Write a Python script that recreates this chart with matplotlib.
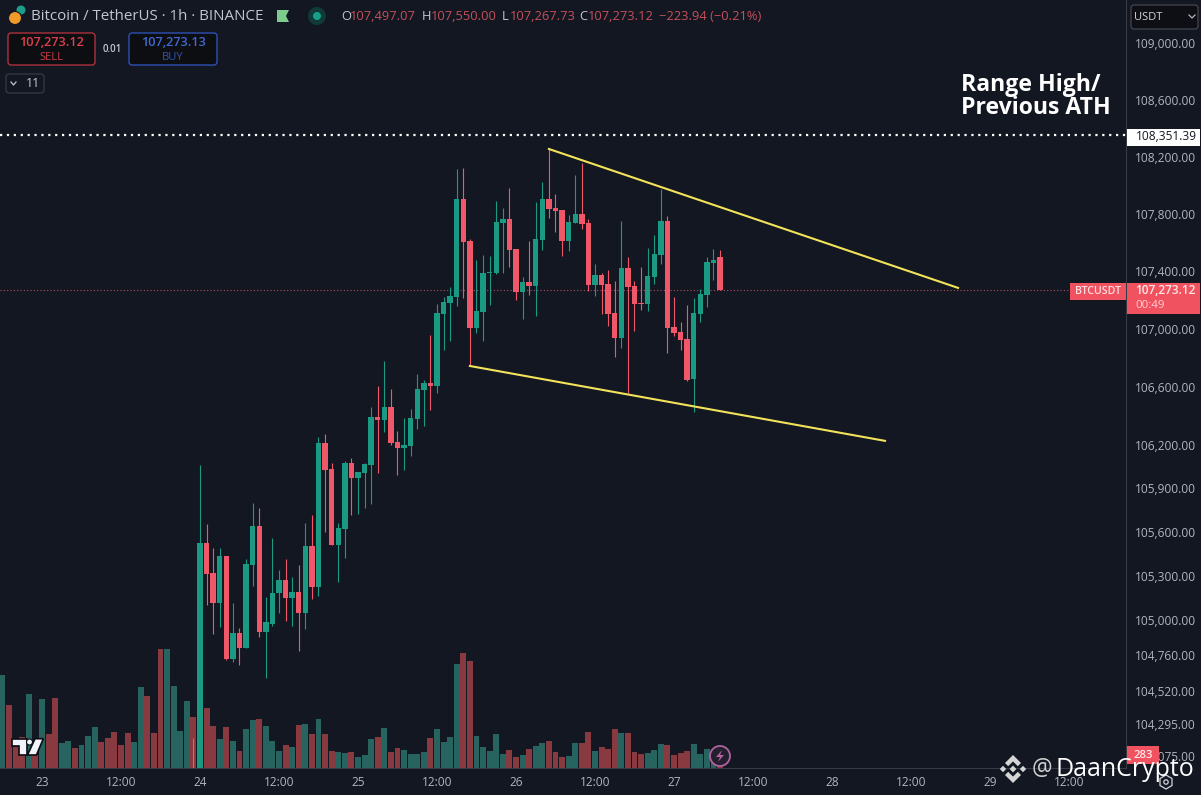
import matplotlib
matplotlib.use("Agg")
import matplotlib.pyplot as plt
from matplotlib.patches import Circle, FancyBboxPatch, Polygon, Rectangle

plt.rcParams['font.family'] = ['Open Sans', 'DejaVu Sans']

# hourly candles, first one sits just left of the "24" tick
first_bar = -1
opens = [103900, 103700, 105524, 105319, 105115, 105437, 104734, 104912, 104808, 105375, 105642,
         104919, 104975, 105185, 105271, 105150, 105192, 105046, 105503, 105226, 106211,
         106032, 105510, 105621, 106074, 105970, 106004, 106060, 106390, 106369, 106459,
         106218, 106176, 106190, 106375, 106577, 106625, 106604, 107105, 107181, 107222,
         107906, 107613, 107007, 107118, 107389, 107390, 107738, 107767, 107557, 107257,
         107327, 107299, 107620, 107906, 107843, 107829, 107613, 107738, 107801, 107738,
         107306, 107375, 107313, 107112, 106938, 107424, 107299, 107181, 107174, 107361,
         107515, 107753, 107014, 106980, 106931, 106654, 107105, 107236, 107458, 107497.07]
highs = [104200, 106060, 105658, 105491, 105491, 105437, 105115, 104944, 105412, 105799, 105767,
         105159, 105558, 105340, 105417, 105292, 105375, 105660, 105716, 106252, 106275,
         106074, 105662, 106088, 106108, 106011, 106074, 106459, 106605, 106778, 106584,
         106294, 106383, 106445, 106685, 106646, 106958, 107171, 107222, 107288, 108117,
         108124, 107625, 107480, 107515, 107508, 107892, 107843, 107983, 107557, 107361,
         107613, 107885, 108025, 108266, 107941, 107829, 107794, 108074, 108158, 107767,
         107452, 107390, 107410, 107334, 107753, 107501, 107334, 107431, 107563, 107655,
         107976, 107788, 107222, 107049, 107167, 107216, 107278, 107501, 107557, 107550]
lows = [103700, 103600, 105101, 104903, 104949, 104727, 104711, 104695, 104808, 105233, 104884,
        104607, 104961, 105048, 104995, 104961, 104790, 104938, 105143, 105164, 105600,
        105510, 105257, 105421, 105716, 105723, 105764, 105792, 106004, 106287, 106200,
        105990, 106025, 106121, 106306, 106327, 106438, 106556, 106854, 106917, 107160,
        107218, 106751, 106975, 106917, 107167, 107380, 107390, 107431, 107199, 107070,
        107236, 107091, 107550, 107773, 107676, 107508, 107543, 107738, 107696, 107264,
        107230, 107105, 107021, 106806, 106869, 106557, 106987, 107132, 107125, 107313,
        107449, 106834, 106952, 106855, 106640, 106426, 107049, 107153, 107340, 107267.73]
closes = [103850, 105524, 105315, 105115, 105437, 104734, 104912, 104808, 105382, 105642, 104919,
          104988, 105185, 105271, 105150, 105192, 105046, 105503, 105226, 106211, 106025,
          105510, 105628, 106074, 105970, 106011, 106067, 106390, 106369, 106459, 106211,
          106176, 106197, 106383, 106584, 106625, 106604, 107111, 107188, 107230, 107906,
          107606, 107007, 107125, 107389, 107396, 107746, 107767, 107550, 107257, 107327,
          107299, 107627, 107906, 107836, 107822, 107613, 107746, 107801, 107731, 107306,
          107375, 107306, 107105, 106938, 107424, 107292, 107174, 107174, 107368, 107522,
          107753, 107007, 106973, 106924, 106647, 107112, 107243, 107465, 107480, 107273.12]

# volume starts further left than the visible candles
first_vol_bar = -30
volumes = [9300, 6300, 2130, 3130, 7400, 1300, 6900, 3400, 7000, 2500, 2700, 2000, 2300, 3200, 4100,
           2600, 3000, 3600, 2300, 3500, 2600, 8100, 7200, 3500, 11900, 11900, 8200, 3700, 6700, 5100,
           8100, 6000, 4200, 2900, 4100, 2700, 1700, 3900, 4800, 4900, 4200, 2700, 1700, 2300, 2100,
           4300, 4400, 3400, 4900, 3400, 1700, 1600, 1500, 1600, 1100, 1300, 2900, 3100, 4000, 1600,
           2000, 1800, 1400, 1400, 1600, 3000, 3900, 2600, 3100, 10400, 11500, 10700, 3200, 2100, 1700,
           3400, 1400, 1800, 1100, 1300, 1900, 2200, 2500, 2700, 1600, 1100, 1200, 2500, 2500, 3600,
           1700, 2100, 1900, 3900, 3500, 3500, 1600, 1400, 1500, 1800, 2400, 2300, 1300, 1500, 1700,
           2400, 1400, 1900, 1500, 283]
vol_up = [1, 0, 0, 0, 1, 0, 1, 0, 0, 1, 1, 0, 1, 1, 1,
          0, 0, 0, 0, 0, 1, 1, 0, 0, 0, 1, 1, 1, 1, 0,
          1, 0, 0, 1, 0, 1, 0, 1, 1, 0, 1, 1, 1, 0, 1,
          0, 1, 0, 1, 0, 0, 1, 1, 0, 1, 1, 1, 0, 1, 0,
          0, 1, 1, 1, 1, 0, 1, 1, 1, 1, 0, 0, 1, 1, 1,
          1, 1, 0, 0, 1, 0, 1, 1, 0, 0, 0, 1, 1, 0, 0,
          1, 0, 0, 0, 1, 0, 0, 0, 1, 1, 1, 0, 0, 0, 0,
          1, 1, 1, 1, 0]

price_ticks = [109000, 108600, 108200, 107800, 107400, 107000, 106600, 106200, 105900,
               105600, 105300, 105000, 104760, 104520, 104295, 104075]
time_ticks = [-24, -12, 0, 12, 24, 36, 48, 60, 72, 84, 96, 108, 120, 132]
time_labels = ['23', '12:00', '24', '12:00', '25', '12:00', '26', '12:00', '27', '12:00',
               '28', '12:00', '29', '12:00']

range_high = 108351.39
last_price = 107273.12
upper_line_x = [53, 115.15]
upper_line_y = [108256, 107285]
lower_line_x = [41, 104.05]
lower_line_y = [106743, 106226]

BG = '#131722'
UP = '#1a9a82'
DOWN = '#f0586a'
VOL_UP = '#27645f'
VOL_DOWN = '#893a40'
GRID_TXT = '#b2b5be'
BORDER = '#363a45'
TAG = '#f0525f'

W, H = 1201, 795
fig = plt.figure(figsize=(W / 100, H / 100), dpi=100, facecolor=BG)
rect = [0, 27 / H, 1126 / W, 768 / H]

ax_vol = fig.add_axes(rect, facecolor=BG)
ax = fig.add_axes(rect, facecolor='none')
ax_ui = fig.add_axes([0, 0, 1, 1], facecolor='none')

xlim = (-30.38, 140.66)

# volume pane
vol_x = [first_vol_bar + i for i in range(len(volumes))]
vol_cols = [VOL_UP if u else VOL_DOWN for u in vol_up]
ax_vol.bar(vol_x, volumes, width=0.9, color=vol_cols, linewidth=0)
ax_vol.set_xlim(xlim)
ax_vol.set_ylim(0, 76800)
ax_vol.axis('off')

# candles
ax.set_yscale('log')
for i in range(len(opens)):
    x = first_bar + i
    col = UP if closes[i] >= opens[i] else DOWN
    ax.vlines(x, lows[i], highs[i], color=col, linewidth=0.8, zorder=3)
    top = max(opens[i], closes[i])
    bot = min(opens[i], closes[i])
    ax.bar(x, top - bot, bottom=bot, width=0.82, color=col, linewidth=0, zorder=4)

ax.set_xlim(xlim)
ax.set_ylim(103996, 109307)

# drawings
ax.axhline(range_high, color='white', linewidth=1.6, linestyle=(0, (1, 2.1)), zorder=5)
ax.axhline(last_price, color='#b0505c', linewidth=0.8, linestyle=(0, (1, 2)), zorder=2)
ax.plot(upper_line_x, upper_line_y, color='#f2e35a', linewidth=1.5, zorder=6)
ax.plot(lower_line_x, lower_line_y, color='#f2e35a', linewidth=1.5, zorder=6)

# axes labels
ax.yaxis.tick_right()
ax.set_yticks(price_ticks)
ax.set_yticklabels([f'{p:,.2f}' for p in price_ticks])
ax.yaxis.set_minor_locator(matplotlib.ticker.NullLocator())
ax.yaxis.set_minor_formatter(matplotlib.ticker.NullFormatter())
ax.set_xticks(time_ticks)
ax.set_xticklabels(time_labels)
ax.tick_params(axis='y', length=0, pad=6.3, labelsize=8.6, labelcolor=GRID_TXT)
ax.tick_params(axis='x', length=0, pad=5.6, labelsize=8.6, labelcolor=GRID_TXT)
for side in ['top', 'left']:
    ax.spines[side].set_visible(False)
ax.spines['right'].set_color(BORDER)
ax.spines['bottom'].set_color(BORDER)
ax.spines['right'].set_linewidth(0.8)
ax.spines['bottom'].set_linewidth(0.8)

# pixel overlay for the TradingView chrome
ax_ui.set_xlim(0, W)
ax_ui.set_ylim(H, 0)
ax_ui.axis('off')


def box(x0, y0, x1, y1, fc, ec, r=3, lw=0.9):
    ax_ui.add_patch(FancyBboxPatch((x0 + r, y0 + r), x1 - x0 - 2 * r, y1 - y0 - 2 * r,
                                   boxstyle=f'round,pad={r}', fc=fc, ec=ec, lw=lw))


def label(x, y, s, color='white', size=8.6, ha='left', weight='normal', **kw):
    ax_ui.text(x, y, s, color=color, fontsize=size, ha=ha, va='center', fontweight=weight, **kw)


# header
ax_ui.add_patch(Circle((21, 10), 4.5, fc='#1d9c88', ec='none'))
ax_ui.add_patch(Circle((15, 18), 6.5, fc='#f09a2a', ec=BG, lw=0.8))
label(31, 16, 'Bitcoin / TetherUS · 1h · BINANCE', color='#c3c6ce', size=10.9)
ax_ui.add_patch(Polygon([(277, 10), (289, 10), (286, 16), (289, 22), (277, 22)], fc='#7fcb8e', ec='none'))
ax_ui.add_patch(Circle((317, 16), 9, fc='#0f3a38', ec='none'))
ax_ui.add_patch(Circle((317, 16), 4, fc='#16a085', ec='none'))

ohlc_letters = [(341, 'O'), (422, 'H'), (502, 'L'), (579, 'C')]
ohlc_values = [(350, '107,497.07'), (431, '107,550.00'), (510, '107,267.73'), (588, '107,273.12')]
for x, s in ohlc_letters:
    label(x, 16, s, color='#c3c6ce', size=9.3)
for x, s in ohlc_values:
    label(x, 16, s, color='#c4505a', size=9.3)
label(659, 16, '−223.94 (−0.21%)', color='#c4505a', size=9.3)

# sell / buy
box(8, 33, 95, 65, '#0d0e12', '#c0343f')
label(51.5, 43, '107,273.12', color='#dc404c', size=9.2, ha='center', weight='semibold')
label(51.5, 57, 'SELL', color='#cc3c47', size=8, ha='center')
label(112, 50, '0.01', color='#c3c6ce', size=7, ha='center', weight='semibold')
box(129, 33, 217, 65, '#0d0e12', '#2f56c4')
label(173, 43, '107,273.13', color='#4268d0', size=9.2, ha='center', weight='semibold')
label(173, 57, 'BUY', color='#3253b0', size=8, ha='center')
box(6, 74, 44, 93, BG, BORDER)
ax_ui.plot([11, 13.5, 16], [82, 85, 82], color='#c3c6ce', lw=0.9)
label(26, 83.5, '11', color='#c3c6ce', size=8.8)

# currency box
box(1131, 5, 1198, 29, '#0d0f14', '#434651')
label(1134, 17, 'USDT', color='#d1d4dc', size=8)
ax_ui.plot([1189, 1192, 1195], [15, 18, 15], color='#b2b5be', lw=0.9)

# annotation
label(961, 85, 'Range High/', size=16.6, weight='bold')
label(961, 108.5, 'Previous ATH', size=16.6, weight='bold')

# price tags
ax_ui.add_patch(Rectangle((1127, 129), 73, 17, fc='white', ec='none'))
label(1136, 137, '108,351.39', color='#131722', size=8.6)
ax_ui.add_patch(Rectangle((1070, 283), 56, 17, fc=TAG, ec='none'))
label(1098, 291.5, 'BTCUSDT', color='#ffe0e3', size=7.6, ha='center', weight='semibold')
ax_ui.add_patch(Rectangle((1127, 283), 73, 31, fc=TAG, ec='none'))
label(1135, 291, '107,273.12', color='#ffe8ea', size=8.6, weight='semibold')
label(1135, 305, '00:49', color='#ffd0d4', size=8.2)
ax_ui.add_patch(Rectangle((1127, 746), 32, 18, fc=TAG, ec='none'))
label(1143, 755.5, '283', color='#ffe8ea', size=8.2, ha='center', weight='semibold')

# lightning icon
ax_ui.add_patch(Circle((720, 756), 10, fc='#241f2e', ec='#b063a0', lw=1.3))
ax_ui.add_patch(Polygon([(722, 750), (716, 757), (720, 757), (718, 762), (724, 755), (720, 755)],
                        fc='#b063a0', ec='none'))

# tradingview mark
for pts in ([(12, 738.7), (26.7, 738.7), (26.7, 755), (19.3, 755), (19.3, 746), (12, 746)],
            [(43.3, 738.7), (35, 738.7), (27.5, 755), (36.5, 755)]):
    ax_ui.add_patch(Polygon(pts, fc='#f0f3fa', ec='#0a0c10', lw=1.2))
ax_ui.add_patch(Circle((29.5, 742), 3, fc='#f0f3fa', ec='#0a0c10', lw=0.8))

# settings hexagon
ax_ui.add_patch(Polygon([(1166, 775), (1172, 778.5), (1172, 785.5), (1166, 789), (1160, 785.5), (1160, 778.5)],
                        fc='none', ec='#d1d4dc', lw=0.9))
ax_ui.add_patch(Circle((1166, 782), 2.2, fc='none', ec='#d1d4dc', lw=0.9))

# watermark, binance mark
cx, cy = 1013, 769
logo_col = '#d5d5d5'
ax_ui.add_patch(Polygon([(cx, cy - 14), (cx + 8, cy - 6), (cx + 4.8, cy - 2.8), (cx, cy - 7.6),
                         (cx - 4.8, cy - 2.8), (cx - 8, cy - 6)], fc=logo_col, ec='none'))
ax_ui.add_patch(Polygon([(cx, cy + 14), (cx + 8, cy + 6), (cx + 4.8, cy + 2.8), (cx, cy + 7.6),
                         (cx - 4.8, cy + 2.8), (cx - 8, cy + 6)], fc=logo_col, ec='none'))
for dx, s in [(0, 3.4), (-10, 3.2), (10, 3.2)]:
    ax_ui.add_patch(Polygon([(cx + dx, cy - s), (cx + dx + s, cy), (cx + dx, cy + s), (cx + dx - s, cy)],
                            fc=logo_col, ec='none'))
label(1032, 769, '@', color='#d0d0d0', size=16.5)
label(1056, 769, 'DaanCrypto', color='white', size=18)

fig.savefig('out.png', dpi=100, facecolor=BG)
